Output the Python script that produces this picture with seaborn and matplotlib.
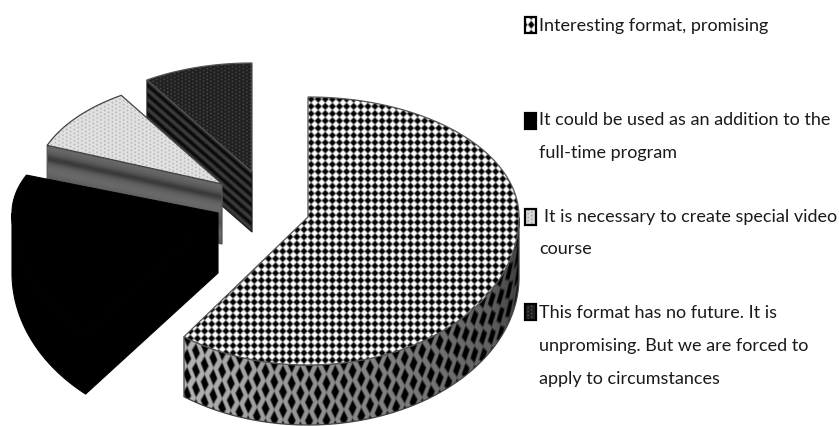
import numpy as np
import matplotlib
matplotlib.use('Agg')
import matplotlib.pyplot as plt
from matplotlib.patches import Polygon, Rectangle
import seaborn as sns

# share of answers
answers = ['Interesting format, promising',
           'It could be used as an addition to the full-time program',
           'It is necessary to create special video course',
           'This format has no future. It is unpromising. But we are forced to apply to circumstances']
shares = [60, 21, 10, 9]

legend_lines = [
    ('Interesting format, promising', 539, 26),
    ('It could be used as an addition to the', 539, 120),
    ('full-time program', 539, 153),
    ('It is necessary to create special video', 544, 217),
    ('course', 539, 249),
    ('This format has no future. It is', 539, 313),
    ('unpromising. But we are forced to', 539, 346),
    ('apply to circumstances', 539, 379),
]

# slice layout in pixels: apex x, apex y, rx, ry up, ry down
slice_geo = [(308, 217, 211, 120, 148),
             (218, 213, 206, 103, 158),
             (222, 184, 188, 105, 148),
             (252, 172, 196, 109, 148)]
depth = 60
W, H = 839, 426

sns.set_theme(style='white')
plt.rcParams['font.family'] = ['Lato', 'DejaVu Sans']

fig = plt.figure(figsize=(W / 100, H / 100), dpi=100)
ax = fig.add_axes([0, 0, 1, 1])

# let the pie work out the angles from the shares
wedges, _ = ax.pie(shares, startangle=90, counterclock=False)
angles = [(w.theta1, w.theta2) for w in wedges]
for w in wedges:
    w.remove()
ax.set_aspect('auto')
ax.set_xlim(0, W)
ax.set_ylim(H, 0)
ax.axis('off')

yy, xx = np.mgrid[0:H * 2, 0:W * 2] / 2.0
layer = [2]


def arc(geo, angle, n=120):
    # runs clockwise, the way the pie is laid out
    cx, cy, rx, up, down = geo
    t = np.radians(np.linspace(angle[1], angle[0], n))
    s = np.sin(t)
    return np.column_stack([cx + rx * np.cos(t), cy - np.where(s > 0, up, down) * s])


def blobs(u, v, pu, pv, r, soft, stagger=False):
    # diamond lattice, 1 inside a diamond and 0 outside
    if stagger:
        v = v + pv / 2 * (np.floor(u / pu) % 2)
    du = np.abs((u % pu) - pu / 2) / pu
    dv = np.abs((v % pv) - pv / 2) / pv
    return np.clip((r - (du + dv)) / soft + 0.5, 0, 1)


def paint(img, pts, edge='#555555', lw=0.9):
    layer[0] += 1
    poly = Polygon(pts, closed=True, facecolor='none', edgecolor=edge, lw=lw, zorder=layer[0] + 0.5)
    ax.add_patch(poly)
    im = ax.imshow(img, extent=(0, W, H, 0), cmap='gray', vmin=0, vmax=1,
                   interpolation='bilinear', aspect='auto', zorder=layer[0])
    im.set_clip_path(poly)
    return poly


main, black, light, dark = slice_geo
m_ang, b_ang, l_ang, d_ang = angles

# dark slice, at the back
a = arc(dark, d_ang)
p_left, apex = a[0], np.array(dark[:2])
slope = (apex[1] - p_left[1]) / (apex[0] - p_left[0])
v = yy - (p_left[1] + slope * (xx - p_left[0]))
paint(0.14 + 0.11 * np.cos(2 * np.pi * v / 9.5), [p_left, apex, apex + [0, depth], p_left + [0, depth]], edge='#222222')
paint(0.13 + 0.3 * blobs(xx, yy, 3.6, 3.6, 0.2, 0.2, True), np.vstack([[apex], a]))

# light slice, drawn over the dark one
a = arc(light, l_ang)
p_left, apex = a[0], np.array(light[:2])
slope = (apex[1] - p_left[1]) / (apex[0] - p_left[0])
v = yy - (p_left[1] + slope * (xx - p_left[0]))
wall = 0.37 + 0.04 * np.cos(2 * np.pi * v / 25) - 0.10 * np.exp(-((v - 13) / 3.5) ** 2)
paint(wall, [p_left, apex, apex + [0, depth], p_left + [0, depth]])
paint(0.88 - 0.33 * blobs(xx, yy, 3.8, 3.8, 0.2, 0.2, True), np.vstack([[apex], a]), edge='#444444')

# black slice, top and wall are both solid
# its lower cut leans a little more than the pie says (nearer to the viewer)
a = arc(black, (b_ang[0], b_ang[1] - 4))
apex = np.array(black[:2])
front = a[:a[:, 0].argmin() + 1]
layer[0] += 1
for pts in (np.vstack([[apex], a]),
            np.vstack([front, front[::-1] + [0, depth]]),
            [apex, a[0], a[0] + [0, depth], apex + [0, depth]]):
    ax.add_patch(Polygon(pts, closed=True, fc='black', ec='black', lw=0.8, zorder=layer[0]))

# big slice: wall first, then the top
a = arc(main, m_ang, 300)
apex = np.array(main[:2])
low = a[a[:, 0].argmax():]
cx, _, rx, _, down = main
s = np.clip((xx - cx) / rx, -1, 1)
rim = main[1] + down * np.sqrt(1 - s ** 2)
shade = np.interp(xx, [187, 300, 420, 490, 519], [0.70, 0.58, 0.47, 0.38, 0.25])
marks = blobs(xx, yy - rim, 8.7, 18.5, 0.45, 0.18, True)
paint(np.clip(shade * (1 - marks), 0, 1), np.vstack([low, low[::-1] + [0, depth]]), edge='#444444')
top = 1 - blobs(xx - 2, yy - 1, 7.1, 7.25, 0.50, 0.28)
paint(top, np.vstack([[apex], a]))

# legend swatches
swatches = [(16.5, 1 - blobs(xx - 527, yy - 20.5, 7, 9, 0.45, 0.2)),
            (113, np.zeros_like(xx)),
            (208.5, 0.85 - 0.45 * blobs(xx, yy, 3.6, 3.6, 0.2, 0.2, True)),
            (304, 0.12 + 0.4 * blobs(xx, yy, 3.6, 3.6, 0.2, 0.2, True))]
for y0, img in swatches:
    box = Rectangle((524.5, y0), 11, 16, fc='none', ec='black', lw=1.6, zorder=21)
    ax.add_patch(box)
    im = ax.imshow(img, extent=(0, W, H, 0), cmap='gray', vmin=0, vmax=1,
                   interpolation='bilinear', aspect='auto', zorder=20)
    im.set_clip_path(box)

for txt, x, y in legend_lines:
    ax.text(x, y, txt, fontsize=13, color='#1a1a1a', va='center', ha='left', zorder=22)

ax.set_xlim(0, W)
ax.set_ylim(H, 0)
fig.savefig('out.png', dpi=100, facecolor='white')
